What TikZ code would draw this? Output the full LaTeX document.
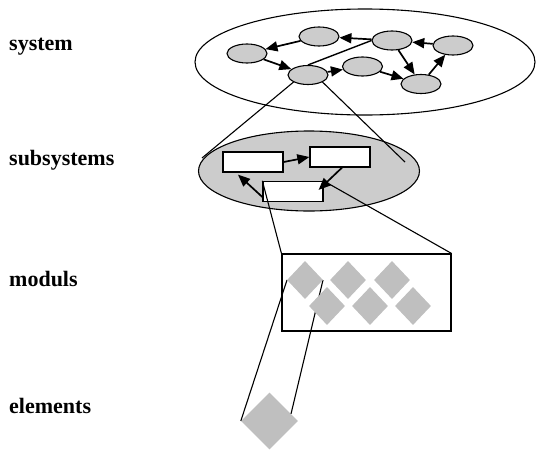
\documentclass[tikz,border=0pt]{standalone}
\usepackage{fontspec}
\setmainfont{Liberation Serif}
\usetikzlibrary{shapes.geometric,arrows.meta,calc}

\tikzset{
  level/.style={anchor=base west,inner sep=0pt,font=\fontsize{22}{26}\selectfont\bfseries},
  proc/.style={ellipse,draw,line width=1.1pt,fill=gray!40,minimum width=40pt,minimum height=19pt,inner sep=0pt},
  sub/.style={rectangle,draw,line width=1.3pt,fill=white,minimum width=60pt,minimum height=20pt,inner sep=0pt},
  modul/.style={diamond,fill=black!25,minimum width=36pt,minimum height=38pt,inner sep=0pt},
  arr/.style={line width=1.7pt,-{Triangle[length=12pt,width=10pt]}},
  link/.style={line width=1.1pt},
}

\begin{document}
\begin{tikzpicture}[x=1pt,y=-1pt]
\useasboundingbox (0,0) rectangle (536,450);

% level labels
\node[level] (lsys)  at (9,50)  {system};
\node[level] (lsub)  at (9,165) {subsystems};
\node[level] (lmod)  at (9,286) {moduls};
\node[level] (lelem) at (9,413) {elements};

% system level
\node[ellipse,draw,line width=1.1pt,minimum width=340pt,minimum height=106pt,inner sep=0pt] (sys) at (365,62) {};
\node[proc] (A) at (319,36.5) {};
\node[proc] (B) at (247,53.5) {};
\node[proc] (C) at (392,40.5) {};
\node[proc] (D) at (453,45.5) {};
\node[proc] (E) at (308,75) {};
\node[proc] (F) at (362.5,66.5) {};
\node[proc] (G) at (421,84) {};

\draw[arr] (A) -- (B);
\draw[arr] (C) -- (A);
\draw[arr] (D) -- (C);
\draw[arr] (B) -- (E);
\draw[arr] (E) -- (F);
\draw[arr] (F) -- (G);
\draw[arr] (C) -- (G);
\draw[arr] (G) -- (D);
\draw[link,line width=1.4pt] (E.north) -- (C.west);

% subsystem level
\node[ellipse,draw,line width=1.1pt,fill=gray!40,minimum width=221pt,minimum height=80pt,inner sep=0pt] (subs) at (309,171) {};
\coordinate (zl) at (202,158);
\coordinate (zr) at (405,162);
\draw[link] (E.south west) -- (zl);
\draw[link] (E.south east) -- (zr);

\node[sub] (R1) at (253,162) {};
\node[sub] (R2) at (340,157) {};
\node[sub] (R3) at (293,191.5) {};

\draw[arr] (R1.east) -- (R2.west);
\draw[arr] ([xshift=2pt]R2.south) -- ([xshift=-5pt,yshift=-9pt]R3.north east);
\draw[arr] ([yshift=-5.5pt]R3.west) -- ([xshift=-15pt,yshift=-2pt]R1.south);

% module level
\node[draw,line width=1.1pt,minimum width=169pt,minimum height=77pt,inner sep=0pt] (box) at (366.5,292.5) {};
\draw[link] (R3.north west) -- (box.north west);
\draw[link] (R3.north east) -- (box.north east);

\coordinate (m1) at (305,280);
\node[diamond,fill=black!25,minimum width=57pt,minimum height=57pt,inner sep=0pt] (el) at (269.5,421) {};
\draw[link] ($(m1)+(-18,0)$) -- (el.west);
\draw[link] ($(m1)+(18,0)$) -- ($(el.east)!0.25!(el.north)$);

\node[modul] (d1) at (m1) {};
\node[modul] (d2) at (348,280) {};
\node[modul] (d3) at (392,280) {};
\node[modul] (d4) at (327,306) {};
\node[modul] (d5) at (370,306) {};
\node[modul] (d6) at (413,306) {};
\end{tikzpicture}
\end{document}
